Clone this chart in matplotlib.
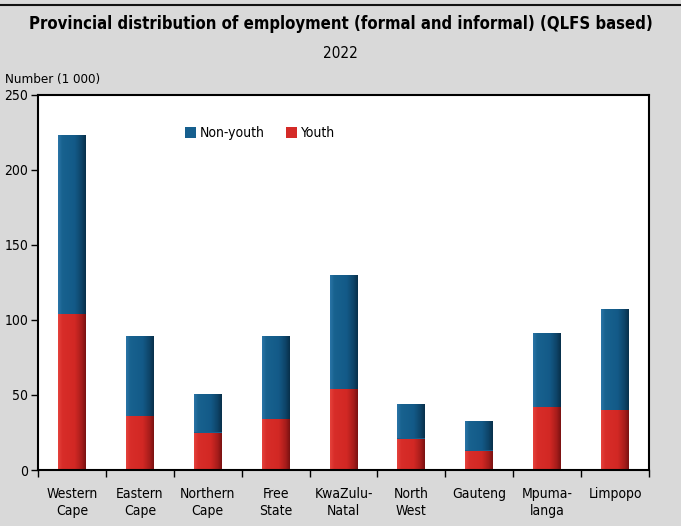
import matplotlib
matplotlib.use("Agg")
import matplotlib.pyplot as plt
import numpy as np
from matplotlib.lines import Line2D
from matplotlib.colors import LinearSegmentedColormap

# -------------------------------
# Data (thousands)
# -------------------------------
provinces = ["Western\nCape", "Eastern\nCape", "Northern\nCape", "Free\nState",
             "KwaZulu-\nNatal", "North\nWest", "Gauteng", "Mpuma-\nlanga", "Limpopo"]
youth = [104, 36, 25, 34, 54, 21, 13, 42, 40]
non_youth = [119, 53, 26, 55, 76, 23, 20, 49, 67]

BLUE = "#165f8e"
RED = "#d42a27"
BG = "#d9d9d9"

# horizontal shading to mimic the bevelled bars
blue_cmap = LinearSegmentedColormap.from_list(
    "b", [(0, "#2a74a6"), (0.15, "#18628f"), (0.6, "#135a88"), (0.85, "#0e4468"), (1, "#08304b")])
red_cmap = LinearSegmentedColormap.from_list(
    "r", [(0, "#e4423c"), (0.15, "#d82d29"), (0.6, "#d22824"), (0.85, "#a81d1b"), (1, "#7a1212")])

plt.rcParams["font.family"] = ["DejaVu Sans"]
plt.rcParams["font.stretch"] = "condensed"

fig = plt.figure(figsize=(6.81, 5.26), dpi=100, facecolor=BG)
ax = fig.add_axes([38 / 681, 1 - 470 / 526, 611 / 681, 375 / 526])
ax.set_facecolor("white")

x = np.arange(len(provinces))
w = 0.41
bars_y = ax.bar(x, youth, w, color=RED, linewidth=0, label="Youth", zorder=2)
bars_n = ax.bar(x, non_youth, w, bottom=youth, color=BLUE, linewidth=0,
                label="Non-youth", zorder=2)

grad = np.linspace(0, 1, 64).reshape(1, -1)
for bars, cmap in [(bars_y, red_cmap), (bars_n, blue_cmap)]:
    for b in bars:
        x0, y0 = b.get_x(), b.get_y()
        im = ax.imshow(grad, cmap=cmap, aspect="auto", zorder=2.5,
                       extent=[x0, x0 + b.get_width(), y0, y0 + b.get_height()])
        im.set_clip_path(b)

ax.set_xlim(-0.5, len(provinces) - 0.5)
ax.set_ylim(0, 250)
ax.set_yticks(range(0, 251, 50))
ax.set_xticks(x)
ax.set_xticklabels(provinces, fontsize=10, linespacing=1.3)
ax.set_xticks(np.arange(-0.5, len(provinces), 1), minor=True)
ax.tick_params(axis="x", which="major", length=0, pad=12)
ax.tick_params(axis="x", which="minor", length=5, direction="out", width=1)
ax.tick_params(axis="y", length=5, direction="out", labelsize=10, pad=2, width=1)
for s in ax.spines.values():
    s.set_linewidth(1.5)
    s.set_color("black")
    s.set_zorder(3)

handles, labels = ax.get_legend_handles_labels()
ax.legend(handles[::-1], labels[::-1], loc="upper left", bbox_to_anchor=(0.22, 0.95),
          ncol=2, frameon=False, fontsize=10, handlelength=0.8, handleheight=0.8,
          handletextpad=0.3, columnspacing=1.5)

fig.text(0.5, 1 - 24 / 526, "Provincial distribution of employment (formal and informal) (QLFS based)",
         ha="center", va="center", fontsize=12, fontweight="bold")
fig.text(0.5, 1 - 53 / 526, "2022", ha="center", va="center", fontsize=11)
fig.text(5 / 681, 1 - 80 / 526, "Number (1 000)", ha="left", va="center", fontsize=9.5)

fig.lines.append(Line2D([0, 1], [1 - 5 / 526, 1 - 5 / 526], transform=fig.transFigure,
                        color="#111111", linewidth=1.5))

fig.savefig("out.png", dpi=100, facecolor=BG)
